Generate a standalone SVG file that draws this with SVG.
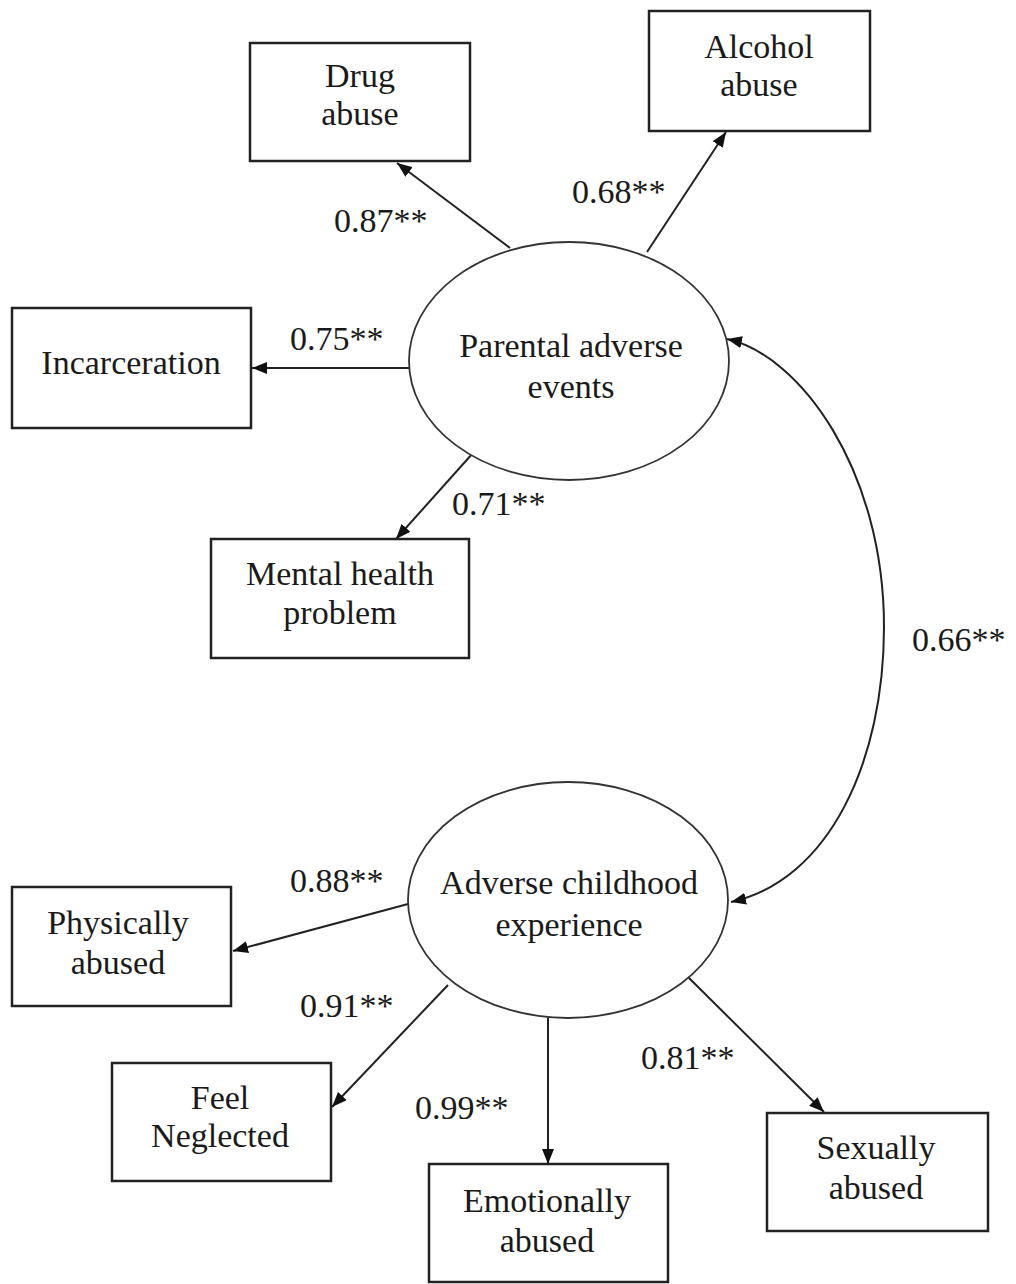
<svg xmlns="http://www.w3.org/2000/svg" width="1016" height="1284" viewBox="0 0 1016 1284">
<style>
  .box { fill: #fff; stroke: #222; stroke-width: 2.5; }
  .lat { fill: #fff; stroke: #333; stroke-width: 1.8; }
  .t { font-family: "Liberation Serif", "Times New Roman", serif; font-size: 34px; fill: #1a1a1a; text-anchor: middle; dominant-baseline: central; }
  .lbl { font-family: "Liberation Serif", "Times New Roman", serif; font-size: 34px; fill: #1a1a1a; dominant-baseline: central; }
  .c { fill: none; stroke: #222; stroke-width: 2; }
</style>
<defs>
  <marker id="ah" viewBox="0 0 15 12" refX="15" refY="6" markerWidth="15" markerHeight="12" orient="auto-start-reverse" markerUnits="userSpaceOnUse">
    <path d="M0,0 L15,6 L0,12 z" fill="#111"/>
  </marker>
</defs>
<rect width="1016" height="1284" fill="#fff"/>

<g id="connectors">
  <line class="c" x1="510" y1="248" x2="397" y2="163" marker-end="url(#ah)"/>
  <line class="c" x1="647" y1="252" x2="726" y2="132" marker-end="url(#ah)"/>
  <line class="c" x1="410" y1="368" x2="252" y2="368" marker-end="url(#ah)"/>
  <line class="c" x1="473" y1="453" x2="396" y2="539" marker-end="url(#ah)"/>
  <path class="c" d="M 727,339 C 800,355 884,470 884,627 C 884,760 830,880 731,902" marker-start="url(#ah)" marker-end="url(#ah)"/>
  <line class="c" x1="408" y1="904" x2="233" y2="951" marker-end="url(#ah)"/>
  <line class="c" x1="448" y1="985" x2="332" y2="1107" marker-end="url(#ah)"/>
  <line class="c" x1="548" y1="1018" x2="548" y2="1164" marker-end="url(#ah)"/>
  <line class="c" x1="688" y1="977" x2="824" y2="1112" marker-end="url(#ah)"/>
</g>

<g id="labels">
  <text class="lbl" x="334" y="220">0.87**</text>
  <text class="lbl" x="572" y="191">0.68**</text>
  <text class="lbl" x="290" y="338">0.75**</text>
  <text class="lbl" x="452" y="503">0.71**</text>
  <text class="lbl" x="912" y="639">0.66**</text>
  <text class="lbl" x="290" y="880">0.88**</text>
  <text class="lbl" x="300" y="1005">0.91**</text>
  <text class="lbl" x="415" y="1107">0.99**</text>
  <text class="lbl" x="641" y="1057">0.81**</text>
</g>

<g id="drug">
  <rect class="box" x="250" y="43" width="220" height="118"/>
  <text class="t" x="360" y="75">Drug</text>
  <text class="t" x="360" y="113">abuse</text>
</g>
<g id="alcohol">
  <rect class="box" x="649" y="11" width="221" height="120"/>
  <text class="t" x="759" y="46">Alcohol</text>
  <text class="t" x="759" y="84">abuse</text>
</g>
<g id="incarceration">
  <rect class="box" x="12" y="308" width="239" height="120"/>
  <text class="t" x="131" y="362">Incarceration</text>
</g>
<g id="mental">
  <rect class="box" x="211" y="539" width="258" height="119"/>
  <text class="t" x="340" y="573">Mental health</text>
  <text class="t" x="340" y="612">problem</text>
</g>
<g id="parental">
  <ellipse class="lat" cx="569" cy="361" rx="160" ry="119"/>
  <text class="t" x="571" y="345">Parental adverse</text>
  <text class="t" x="571" y="386">events</text>
</g>
<g id="ace">
  <ellipse class="lat" cx="568" cy="900" rx="160" ry="118"/>
  <text class="t" x="569" y="882">Adverse childhood</text>
  <text class="t" x="569" y="924">experience</text>
</g>
<g id="physically">
  <rect class="box" x="12" y="887" width="219" height="119"/>
  <text class="t" x="118" y="922">Physically</text>
  <text class="t" x="118" y="962">abused</text>
</g>
<g id="neglected">
  <rect class="box" x="112" y="1063" width="219" height="118"/>
  <text class="t" x="220" y="1097">Feel</text>
  <text class="t" x="220" y="1135">Neglected</text>
</g>
<g id="emotionally">
  <rect class="box" x="429" y="1164" width="239" height="118"/>
  <text class="t" x="547" y="1200">Emotionally</text>
  <text class="t" x="547" y="1240">abused</text>
</g>
<g id="sexually">
  <rect class="box" x="767" y="1113" width="221" height="118"/>
  <text class="t" x="876" y="1147">Sexually</text>
  <text class="t" x="876" y="1187">abused</text>
</g>
</svg>
